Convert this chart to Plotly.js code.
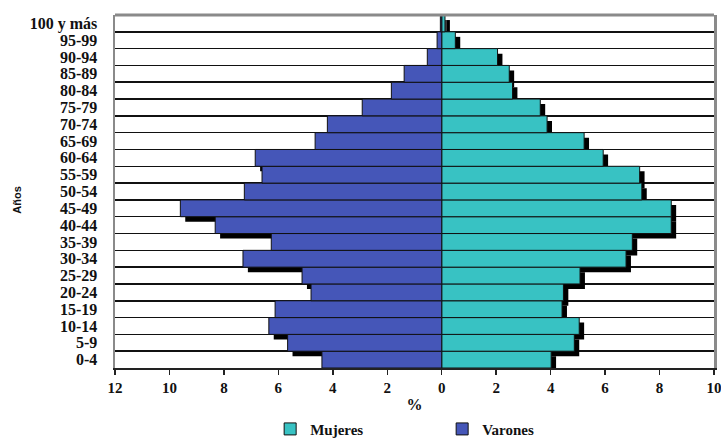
<!DOCTYPE html>
<html>
<head>
<meta charset="utf-8">
<script src="https://cdn.plot.ly/plotly-3.0.1.min.js"></script>
<style>html,body{margin:0;padding:0;background:#fff;}</style>
</head>
<body>
<div id="chart" style="width:721px;height:439px;"></div>
<script>
// Age groups, bottom to top
var ageGroups = ["0-4","5-9","10-14","15-19","20-24","25-29","30-34","35-39","40-44","45-49","50-54","55-59","60-64","65-69","70-74","75-79","80-84","85-89","90-94","95-99","100 y más"];
// Percent of population
var mujeres = [4.02,4.87,5.05,4.42,4.47,5.08,6.77,7.0,8.43,8.43,7.35,7.27,5.93,5.23,3.87,3.62,2.6,2.48,2.05,0.5,0.12];
var varones = [4.4,5.66,6.35,6.12,4.8,5.13,7.3,6.26,8.32,9.6,7.25,6.6,6.85,4.65,4.2,2.92,1.85,1.38,0.53,0.17,0.05];
var xTickVals = [-12,-10,-8,-6,-4,-2,0,2,4,6,8,10];
var xTickText = ["12","10","8","6","4","2","0","2","4","6","8","10"];

var idx = ageGroups.map(function(_, i){ return i; });
var varonesNeg = varones.map(function(v){ return -v; });
var shadowDX = 0.18, shadowDY = 0.3;
var shadowY = idx.map(function(i){ return i - shadowDY; });
var halfIdx = [];
for (var k = 0; k <= ageGroups.length; k++) halfIdx.push(k - 0.5);

var serif = "'Liberation Serif', 'Times New Roman', serif";

var traces = [
  {type:'bar', orientation:'h', y: shadowY, x: mujeres, base: shadowDX, width: 1,
   marker:{color:'#000'}, showlegend:false, hoverinfo:'skip'},
  {type:'bar', orientation:'h', y: shadowY, x: varonesNeg, base: shadowDX, width: 1,
   marker:{color:'#000'}, showlegend:false, hoverinfo:'skip'},
  {type:'bar', orientation:'h', name:'Mujeres', y: idx, x: mujeres, width: 1,
   marker:{color:'#38C2C3', line:{color:'#111', width:1}}},
  {type:'bar', orientation:'h', name:'Varones', y: idx, x: varonesNeg, width: 1,
   marker:{color:'#4556B8', line:{color:'#111', width:1}}}
];

var layout = {
  width:721, height:439,
  margin:{l:115, r:7, t:15, b:71},
  paper_bgcolor:'#fff', plot_bgcolor:'#fff',
  barmode:'overlay',
  showlegend:true,
  xaxis:{
    automargin:false, ticklabeloverflow:'allow',
    range:[-12,10], tickvals:xTickVals, ticktext:xTickText,
    showgrid:false, zeroline:true, zerolinecolor:'#111', zerolinewidth:1,
    showline:true, linecolor:'#222', linewidth:1.5,
    ticks:'outside', ticklen:5, tickcolor:'#222', tickwidth:1.5,
    tickfont:{family:serif, size:15, color:'#111', weight:'bold'},
    title:{text:'%', standoff:6, font:{family:serif, size:16, color:'#111', weight:'bold'}}
  },
  yaxis:{
    automargin:false,
    range:[-0.5, ageGroups.length - 0.5], tickvals: idx, ticktext: ageGroups,
    showgrid:false, zeroline:false,
    showline:true, mirror:true, linecolor:'#8a8a8a', linewidth:2.5,
    ticks:'', ticklabelstandoff:12,
    tickfont:{family:serif, size:16, color:'#111', weight:'bold'},
    minor:{tickvals: halfIdx, showgrid:true, gridcolor:'#111', gridwidth:1.5, ticks:''}
  },
  annotations:[
    {text:'Años', xref:'paper', yref:'paper', x:-0.164, y:0.476, xanchor:'center', yanchor:'middle',
     textangle:-90, showarrow:false,
     font:{family:"'Liberation Sans', Arial, sans-serif", size:11, color:'#111', weight:'bold'}}
  ],
  legend:{
    orientation:'h', xref:'paper', x:0.259, xanchor:'left',
    yref:'container', y:0.06, yanchor:'top',
    font:{family:serif, size:15, color:'#111', weight:'bold'},
    entrywidth:127, itemwidth:30, traceorder:'normal'
  },
  shapes:[
    {type:'line', xref:'paper', yref:'paper', x0:0, x1:1, y0:1, y1:1, line:{color:'#8a8a8a', width:3}}
  ]
};

Plotly.newPlot('chart', traces, layout, {displayModeBar:false, staticPlot:true});
</script>
</body>
</html>
